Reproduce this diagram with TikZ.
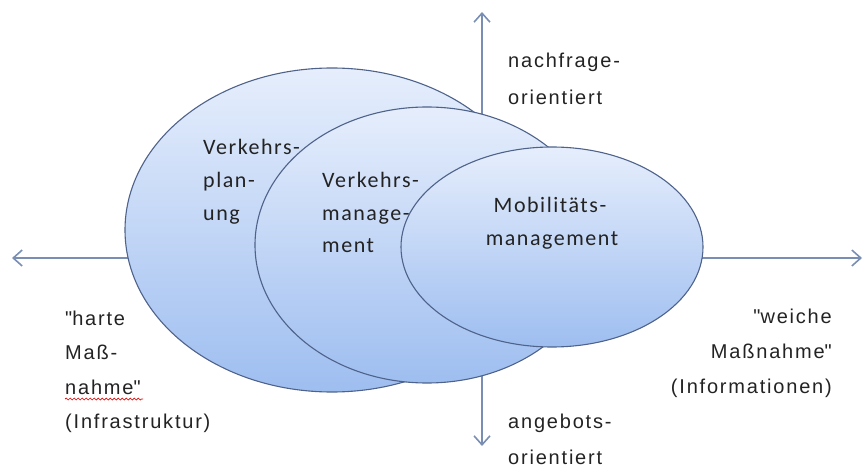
\documentclass[tikz,border=0pt]{standalone}
\usepackage{fontspec}
\setmainfont{Liberation Sans}[LetterSpace=9]
\newfontfamily\calib{Carlito}[LetterSpace=7]
\usetikzlibrary{shapes.geometric,arrows.meta,decorations.pathmorphing}
\definecolor{axiscol}{RGB}{122,142,180}
\definecolor{bubtop}{RGB}{230,238,252}
\definecolor{bubbot}{RGB}{158,190,240}
\definecolor{bubline}{RGB}{78,98,138}
\definecolor{txt}{RGB}{35,35,35}
\tikzset{
  axisline/.style={draw=axiscol, line width=1.8pt, -{Straight Barb[length=9pt,width=16pt,line width=1.6pt]}},
  bub/.style={ellipse, draw=bubline, line width=1.1pt, top color=bubtop, bottom color=bubbot, inner sep=0pt},
  lab/.style={text=txt, inner sep=0pt, font=\fontsize{20}{22}\selectfont},
  blab/.style={text=txt, inner sep=0pt, font=\calib\fontsize{22}{24}\selectfont},
  wavy/.style={draw=red!85!black, line width=0.7pt, decorate, decoration={snake, segment length=4pt, amplitude=1pt}}
}
\begin{document}
\begin{tikzpicture}[x=1pt,y=-1pt]
\useasboundingbox (0,0) rectangle (866,470);
% axes
\coordinate (c) at (482,258);
\coordinate (L) at (12,258);
\coordinate (R) at (862,258);
\coordinate (T) at (482,12);
\coordinate (B) at (482,446);
\draw[axisline] (c) -- (L);
\draw[axisline] (c) -- (R);
\draw[axisline] (c) -- (T);
\draw[axisline] (c) -- (B);
% ellipses
\node[bub, minimum width=414pt, minimum height=324pt] (vp) at (332,230) {};
\node[bub, minimum width=344pt, minimum height=276pt] (vm) at (427,245) {};
\node[bub, minimum width=302pt, minimum height=200pt] (mm) at (552,247) {};
% ellipse texts
\node[blab, anchor=base west] (vp1) at (203,155) {Verkehrs-};
\node[blab, anchor=base west] (vp2) at (203,188) {plan-};
\node[blab, anchor=base west] (vp3) at (203,220) {ung};
\node[blab, anchor=base west] (vm1) at (322,188) {Verkehrs-};
\node[blab, anchor=base west] (vm2) at (322,220) {manage-};
\node[blab, anchor=base west] (vm3) at (322,252) {ment};
\node[blab, anchor=base] (mm1) at (550,213) {Mobilitäts-};
\node[blab, anchor=base] (mm2) at (552,245) {management};
% axis labels
\node[lab, anchor=base west] (n1) at (508,68) {nachfrage-};
\node[lab, anchor=base west] (n2) at (508,105) {orientiert};
\node[lab, anchor=base west] (a1) at (508,428) {angebots-};
\node[lab, anchor=base west] (a2) at (508,464) {orientiert};
\node[lab, anchor=base west] (h1) at (65,325) {\textquotedbl harte};
\node[lab, anchor=base west] (h2) at (65,359) {Maß-};
\node[lab, anchor=base west] (h3) at (65,394) {nahme\textquotedbl};
\node[lab, anchor=base west] (h4) at (65,428) {(Infrastruktur)};
\node[lab, anchor=base east] (w1) at (832,323) {\textquotedbl weiche};
\node[lab, anchor=base east] (w2) at (832,358) {Maßnahme\textquotedbl};
\node[lab, anchor=base east] (w3) at (832,393) {(Informationen)};
% spell-check underline
\coordinate (u1) at (65,399);
\coordinate (u2) at (143,399);
\draw[wavy] (u1) -- (u2);
\end{tikzpicture}
\end{document}
